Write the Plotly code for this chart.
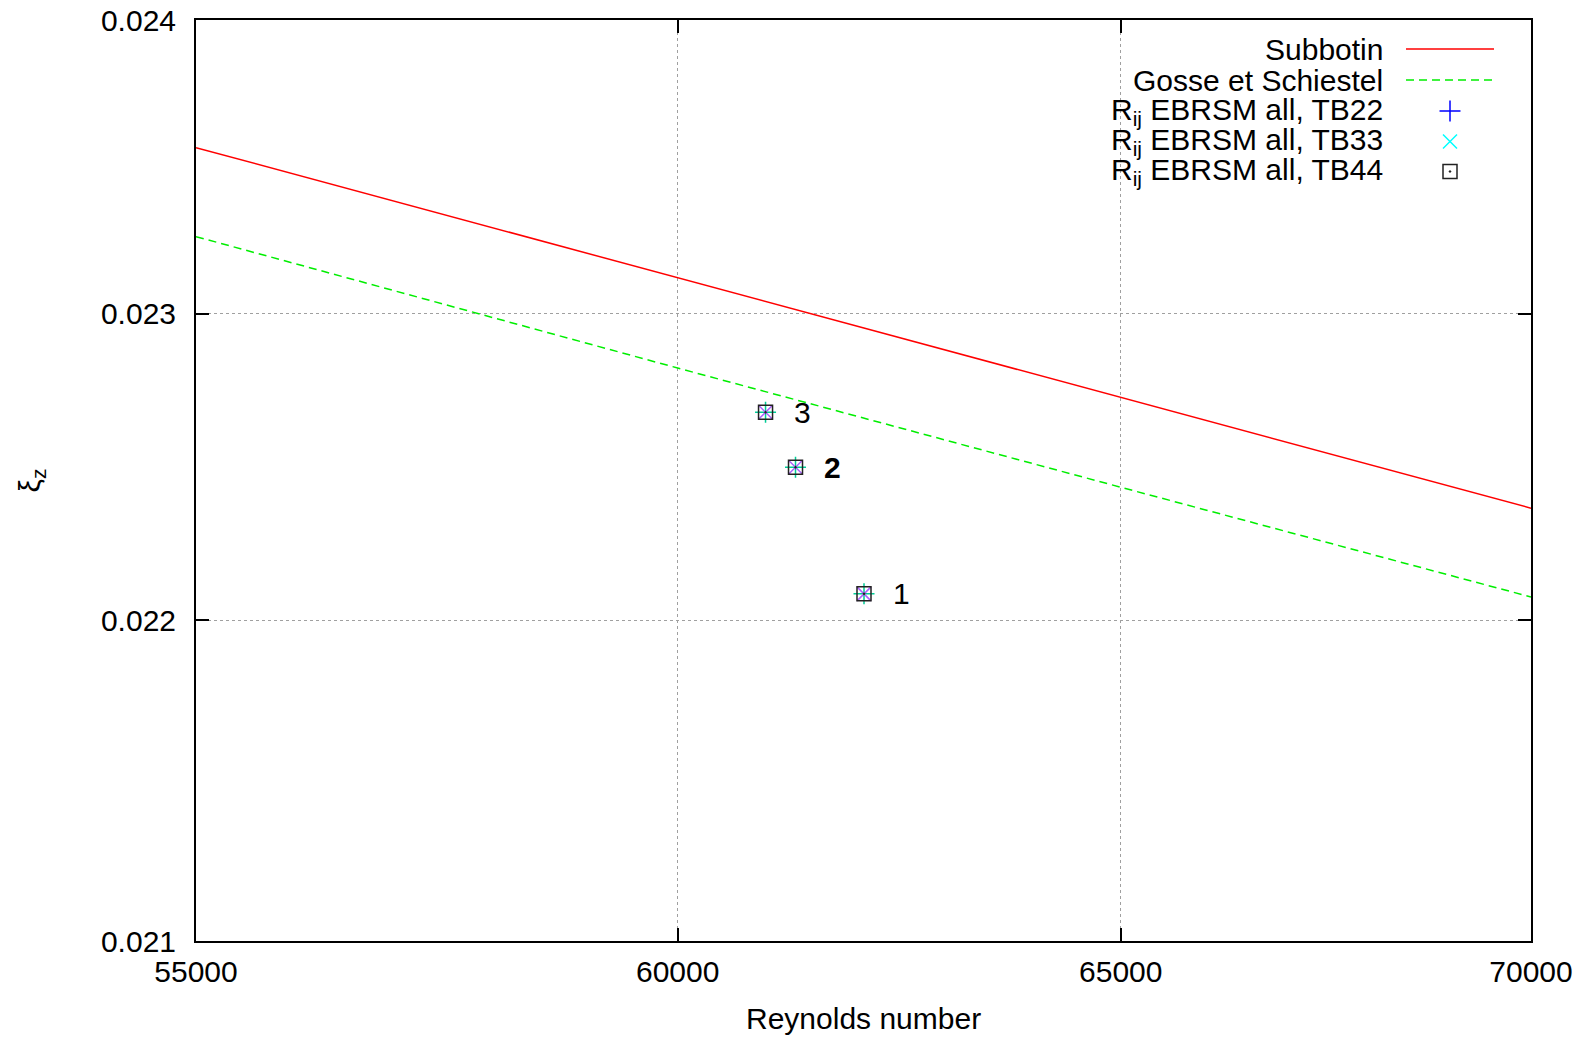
import numpy as np
import plotly.graph_objects as go

# Correlation curves (Reynolds number vs xi_z)
re_corr = [55000, 60000, 65000, 70000]
xi_subbotin = [0.02356, 0.02312, 0.02272, 0.02236]
xi_gosse = [0.023258, 0.022819, 0.022428, 0.022074]

# Simulation results (cases 1, 2, 3)
case_labels = ["1", "2", "3"]
re_cases = [62054, 61291, 60960]
xi_tb22 = [0.022084, 0.022493, 0.022673]
xi_tb33 = [0.022084, 0.022493, 0.022673]
xi_tb44 = [0.022084, 0.022493, 0.022673]

x_ticks = [55000, 60000, 65000, 70000]
y_ticks = [0.021, 0.022, 0.023, 0.024]
y_ticktext = ["0.021", "0.022", "0.023", "0.024"]

legend_names = [
    "Subbotin",
    "Gosse et Schiestel",
    "R<sub>ij</sub> EBRSM all, TB22",
    "R<sub>ij</sub> EBRSM all, TB33",
    "R<sub>ij</sub> EBRSM all, TB44",
]

FONT = "Liberation Sans, Arial, Helvetica, sans-serif"
FS = 30
W, H = 1595, 1037
ML, MR, MT, MB = 196, 64, 20, 96
PW, PH = W - ML - MR, H - MT - MB


def px_to_paper(px, py):
    return (px - ML) / PW, 1 - (py - MT) / PH


fig = go.Figure()

fig.add_trace(go.Scatter(x=re_corr, y=xi_subbotin, mode="lines",
                         line=dict(color="#ff0000", width=1.5), showlegend=False))
fig.add_trace(go.Scatter(x=re_corr, y=xi_gosse, mode="lines",
                         line=dict(color="#00ee00", width=1.5, dash="8px,5px"), showlegend=False))

fig.add_trace(go.Scatter(x=re_cases, y=xi_tb22, mode="markers",
                         marker=dict(symbol="cross-thin-open", size=15,
                                     line=dict(color="#0000ff", width=1.5)), showlegend=False))
fig.add_trace(go.Scatter(x=re_cases, y=xi_tb33, mode="markers",
                         marker=dict(symbol="x-thin-open", size=14,
                                     line=dict(color="#00ffff", width=1.5)), showlegend=False))
fig.add_trace(go.Scatter(x=re_cases, y=xi_tb44, mode="markers",
                         marker=dict(symbol="square-open-dot", size=14, color="#222222",
                                     line=dict(color="#222222", width=1.5)), showlegend=False))

# Case number labels next to the points
for lab, rx, ry in zip(case_labels, re_cases, xi_tb44):
    txt = "<b>" + lab + "</b>" if lab == "2" else lab
    fig.add_annotation(x=np.log10(rx), y=np.log10(ry), xref="x", yref="y",
                       text=txt, showarrow=False, xshift=37, yshift=0,
                       font=dict(family=FONT, size=FS, color="black"))

# Key: right-aligned text with sample on the right
row_y = [49, 80, 111, 141.5, 171.5]
text_right = 1385
for name, ry in zip(legend_names, row_y):
    xp, yp = px_to_paper(text_right, ry)
    fig.add_annotation(x=xp, y=yp, xref="paper", yref="paper", text=name,
                       showarrow=False, xanchor="right", yanchor="middle",
                       font=dict(family=FONT, size=FS, color="black"))

x0p, y0p = px_to_paper(1406, row_y[0])
x1p, _ = px_to_paper(1494, row_y[0])
fig.add_shape(type="line", xref="paper", yref="paper", x0=x0p, x1=x1p, y0=y0p, y1=y0p,
              line=dict(color="#ff0000", width=1.5))
_, y1p = px_to_paper(1406, row_y[1])
fig.add_shape(type="line", xref="paper", yref="paper", x0=x0p, x1=x1p, y0=y1p, y1=y1p,
              line=dict(color="#00ee00", width=1.5, dash="8px,5px"))

key_syms = [("cross-thin-open", "#0000ff", 15), ("x-thin-open", "#00ffff", 14),
            ("square-open-dot", "#222222", 14)]
for (sym, col, sz), ry in zip(key_syms, row_y[2:]):
    kx, ky = px_to_paper(1450, ry)
    fig.add_trace(go.Scatter(x=[kx], y=[ky], xaxis="x2", yaxis="y2", mode="markers",
                             marker=dict(symbol=sym, size=sz, color=col,
                                         line=dict(color=col, width=1.5)),
                             showlegend=False, hoverinfo="skip"))

# Axis titles
fig.add_annotation(x=0.5, y=0, xref="paper", yref="paper", text="Reynolds number",
                   showarrow=False, yanchor="middle", yshift=-77,
                   font=dict(family=FONT, size=FS, color="black"))
fig.add_annotation(x=0, y=0.5, xref="paper", yref="paper", text="ξ<sub>z</sub>",
                   showarrow=False, textangle=-90, xanchor="center", yanchor="middle",
                   xshift=-165, font=dict(family=FONT, size=FS, color="black"))

axis_common = dict(
    showline=True, linecolor="black", linewidth=2, mirror="ticks",
    ticks="inside", ticklen=13, tickwidth=2, tickcolor="black",
    showgrid=True, gridcolor="#a0a0a0", gridwidth=1, griddash="dot",
    zeroline=False, automargin=False,
    tickfont=dict(family=FONT, size=FS, color="black"),
)

fig.update_layout(
    width=W, height=H,
    margin=dict(l=ML, r=MR, t=MT, b=MB),
    paper_bgcolor="white", plot_bgcolor="white",
    showlegend=False,
    xaxis=dict(type="log", range=[np.log10(55000), np.log10(70000)],
               tickvals=x_ticks, ticktext=[str(v) for v in x_ticks],
               ticklabelstandoff=3, **axis_common),
    yaxis=dict(type="log", range=[np.log10(0.021), np.log10(0.024)],
               tickvals=y_ticks, ticktext=y_ticktext,
               ticklabelstandoff=12, **axis_common),
    xaxis2=dict(overlaying="x", range=[0, 1], visible=False, fixedrange=True),
    yaxis2=dict(overlaying="y", range=[0, 1], visible=False, fixedrange=True),
)

fig.write_html("out.html")
